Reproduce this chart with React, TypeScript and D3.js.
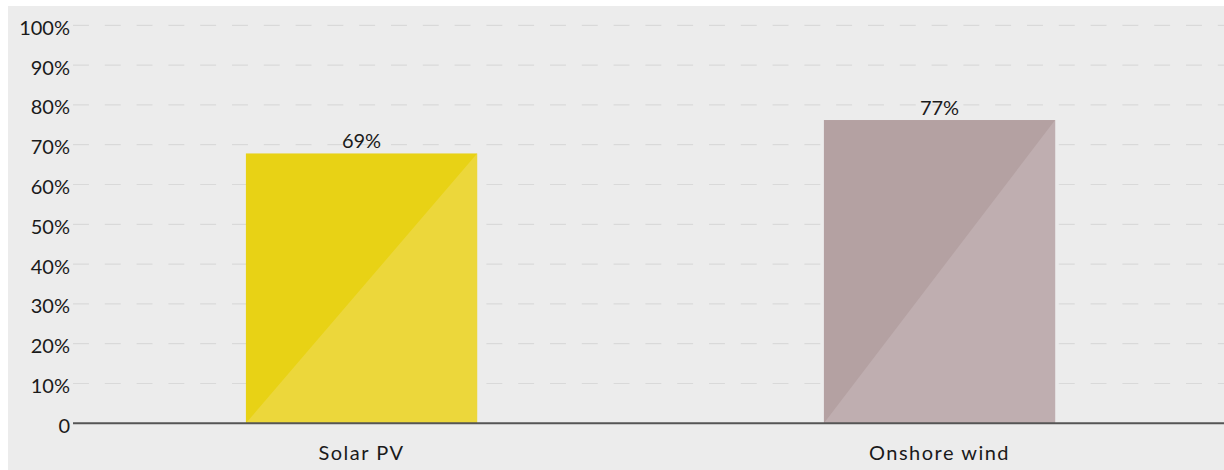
import React from "react";
import * as d3 from "d3";

// chart data
const categories = ["Solar PV", "Onshore wind"];
const shares = [67.8, 76.2];
const shareLabels = ["69%", "77%"];
const yTicks = [0, 10, 20, 30, 40, 50, 60, 70, 80, 90, 100];

const barColors = [
  { dark: "#e8d215", light: "#ecd73b" },
  { dark: "#b4a1a2", light: "#bfaeb0" },
];

const width = 1216;
const height = 464;
const font = "Lato, 'Open Sans', sans-serif";

const App = () => {
  const x = d3
    .scaleBand()
    .domain(categories)
    .range([64.5, 1220.5])
    .paddingInner(0.6)
    .paddingOuter(0.3);

  const y = d3.scaleLinear().domain([0, 100]).range([417.3, 19.3]);

  return (
    <svg
      width={width}
      height={height}
      style={{ position: "absolute", left: 8, top: 6, background: "#ececec" }}
    >
      {/* dashed gridlines */}
      {yTicks
        .filter((t) => t > 0)
        .map((t) => (
          <line
            key={"g" + t}
            x1={65}
            x2={width}
            y1={y(t)}
            y2={y(t)}
            stroke="#d9d9d9"
            strokeWidth={1.2}
            strokeDasharray="15.9 15.9"
          />
        ))}

      {/* y tick labels */}
      {yTicks.map((t) => (
        <text
          key={"t" + t}
          x={62}
          y={y(t) + 9.5}
          textAnchor="end"
          fontFamily={font}
          fontSize={20}
          fill="#1a1a1a"
        >
          {t === 0 ? "0" : `${t}%`}
        </text>
      ))}

      {/* bars with lighter lower-right triangle */}
      {categories.map((c, i) => {
        const x0 = x(c) as number;
        const x1 = x0 + x.bandwidth();
        const yTop = y(shares[i]);
        const yBot = y(0);
        return (
          <g key={c}>
            <rect
              x={x0}
              y={yTop}
              width={x.bandwidth()}
              height={yBot - yTop}
              fill={barColors[i].dark}
            />
            <path
              d={`M${x0},${yBot}L${x1},${yTop}L${x1},${yBot}Z`}
              fill={barColors[i].light}
            />
            <text
              x={x0 + x.bandwidth() / 2}
              y={yTop - 5.5}
              textAnchor="middle"
              fontFamily={font}
              fontSize={20}
              fill="#1a1a1a"
            >
              {shareLabels[i]}
            </text>
            <text
              x={x0 + x.bandwidth() / 2}
              y={454}
              textAnchor="middle"
              fontFamily={font}
              fontSize={20}
              letterSpacing={1.5}
              fill="#1a1a1a"
            >
              {c}
            </text>
          </g>
        );
      })}

      {/* x axis line */}
      <line x1={65} x2={width} y1={y(0)} y2={y(0)} stroke="#555555" strokeWidth={2} />
    </svg>
  );
};

export default App;
